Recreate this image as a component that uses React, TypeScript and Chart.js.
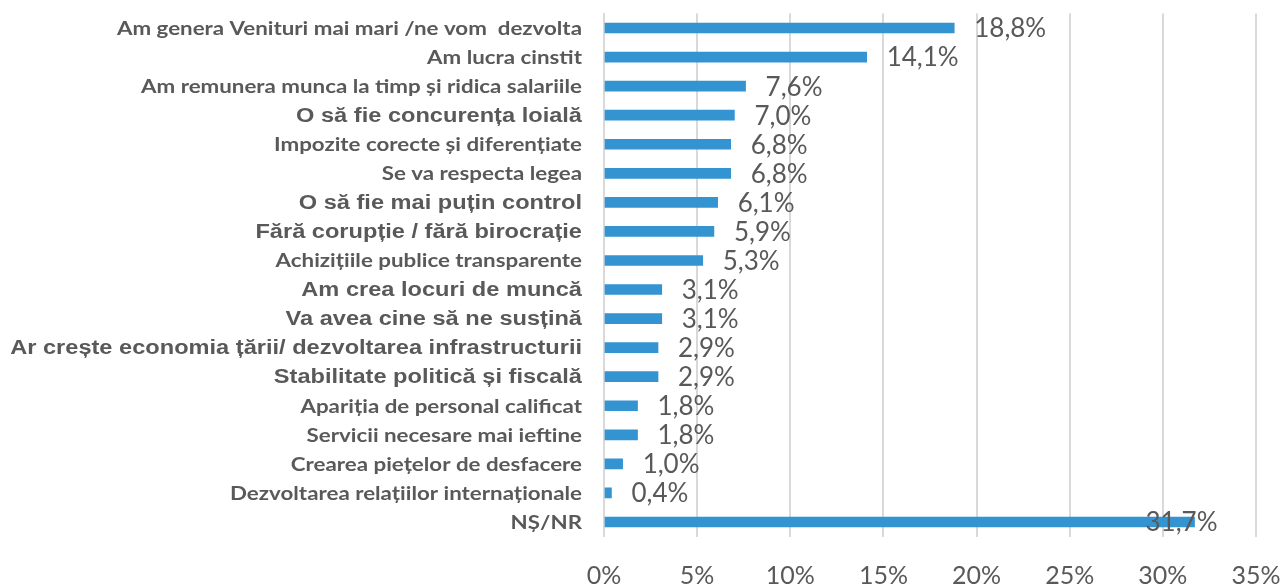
import React, { useEffect, useRef } from "react";
import { Chart, registerables } from "chart.js";

Chart.register(...registerables);

const categories = [
  "Am genera Venituri mai mari /ne vom  dezvolta",
  "Am lucra cinstit",
  "Am remunera munca la timp și ridica salariile",
  "O să fie concurența loială",
  "Impozite corecte și diferențiate",
  "Se va respecta legea",
  "O să fie mai puțin control",
  "Fără corupție / fără birocrație",
  "Achizițiile publice transparente",
  "Am crea locuri de muncă",
  "Va avea cine să ne susțină",
  "Ar crește economia țării/ dezvoltarea infrastructurii",
  "Stabilitate politică și fiscală",
  "Apariția de personal calificat",
  "Servicii necesare mai ieftine",
  "Crearea piețelor de desfacere",
  "Dezvoltarea relațiilor internaționale",
  "NȘ/NR",
];

const values = [18.8, 14.1, 7.6, 7.0, 6.8, 6.8, 6.1, 5.9, 5.3, 3.1, 3.1, 2.9, 2.9, 1.8, 1.8, 1.0, 0.4, 31.7];

// labels set in the Arial-like face (the others use the Calibri-like face)
const arialLabels = [
  "O să fie concurența loială",
  "O să fie mai puțin control",
  "Fără corupție / fără birocrație",
  "Am crea locuri de muncă",
  "Va avea cine să ne susțină",
  "Ar crește economia țării/ dezvoltarea infrastructurii",
  "Stabilitate politică și fiscală",
];

const xTicks = [0, 5, 10, 15, 20, 25, 30, 35];

const fmt = (v: number) => v.toFixed(1).replace(".", ",") + "%";

const TEXT = "#595959";

const categoryLabelPlugin = {
  id: "categoryLabels",
  afterDraw(chart: any) {
    const ctx = chart.ctx;
    const yScale = chart.scales.y;
    const right = chart.chartArea.left - 22;
    ctx.save();
    ctx.fillStyle = TEXT;
    ctx.textAlign = "right";
    ctx.textBaseline = "middle";
    categories.forEach((lab, i) => {
      const y = yScale.getPixelForTick(i);
      const arial = arialLabels.includes(lab);
      ctx.save();
      ctx.translate(right, y + 1);
      if (arial) {
        ctx.font = "bold 20px 'Liberation Sans'";
        ctx.scale(1.18, 1);
      } else {
        ctx.font = "bold 18px Lato";
        ctx.scale(1.24, 1);
      }
      ctx.fillText(lab, 0, 0);
      ctx.restore();
    });
    ctx.restore();
  },
};

const dataLabelPlugin = {
  id: "dataLabels",
  afterDatasetsDraw(chart: any) {
    const ctx = chart.ctx;
    const meta = chart.getDatasetMeta(0);
    ctx.save();
    ctx.font = "26px Lato";
    ctx.fillStyle = TEXT;
    ctx.textBaseline = "middle";
    meta.data.forEach((bar: any, i: number) => {
      const text = fmt(values[i]);
      const w = ctx.measureText(text).width;
      let x = bar.x + 20;
      if (x + w > chart.chartArea.right) {
        ctx.textAlign = "right";
        x = bar.x + 23;
      } else {
        ctx.textAlign = "left";
      }
      ctx.fillText(text, x, bar.y + 1);
    });
    ctx.restore();
  },
};

export default function App() {
  const ref = useRef<HTMLCanvasElement>(null);
  useEffect(() => {
    document.body.style.margin = "0";
    const chart = new Chart(ref.current!, {
      type: "bar",
      data: {
        labels: categories,
        datasets: [
          {
            data: values,
            backgroundColor: "#3394D1",
            borderWidth: 0,
            barThickness: 10,
          },
        ],
      },
      options: {
        indexAxis: "y",
        animation: false,
        responsive: false,
        maintainAspectRatio: false,
        layout: { padding: { top: 13.5, right: 29, bottom: 0, left: 0 } },
        plugins: { legend: { display: false }, tooltip: { enabled: false } },
        scales: {
          x: {
            min: 0,
            max: 35,
            afterBuildTicks: (scale: any) => {
              scale.ticks = xTicks.map((v) => ({ value: v }));
            },
            afterFit: (scale: any) => {
              scale.height = 47.5;
              scale.paddingLeft = 0;
              scale.paddingRight = 0;
            },
            grid: { color: "#D9D9D9", lineWidth: 2, drawTicks: false },
            border: { display: false },
            ticks: {
              padding: 24,
              color: TEXT,
              font: { family: "Lato", size: 25 },
              maxRotation: 0,
              callback: (v: any) => v + "%",
            },
          },
          y: {
            afterFit: (scale: any) => {
              scale.width = 604;
              scale.paddingTop = 0;
              scale.paddingBottom = 0;
            },
            grid: { display: false, drawTicks: false },
            border: { display: true, color: "#D9D9D9", width: 2 },
            ticks: { display: false, autoSkip: false },
          },
        },
      },
      plugins: [dataLabelPlugin, categoryLabelPlugin],
    });
    return () => chart.destroy();
  }, []);
  return (
    <div style={{ width: 1285, height: 584 }}>
      <canvas ref={ref} width={1285} height={584} style={{ display: "block" }} />
    </div>
  );
}
